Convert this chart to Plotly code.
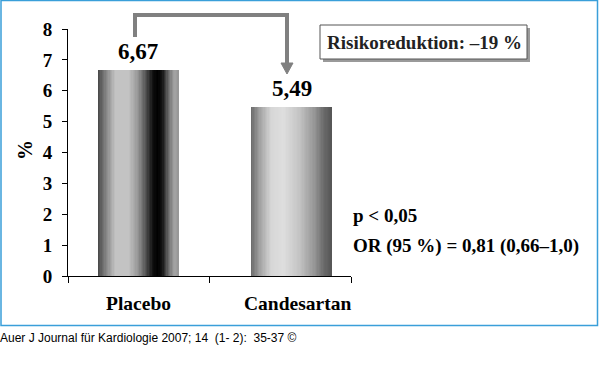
import plotly.graph_objects as go

# ---- data ----
categories = ["Placebo", "Candesartan"]
values = [6.67, 5.49]
value_labels = ["6,67", "5,49"]
y_ticks = [0, 1, 2, 3, 4, 5, 6, 7, 8]
risk_text = "Risikoreduktion: \u201319 %"
stat_lines = ["p < 0,05", "OR (95 %) = 0,81 (0,66\u20131,0)"]
caption = "Auer J Journal f\u00fcr Kardiologie 2007; 14  (1- 2):  35-37 \u00a9"

# ---- styling ----
W, H = 600, 388
L, T, PW, PH = 68, 29, 283, 247
SERIF = "Liberation Serif"
SANS = "Liberation Sans"

def xp(px):
    return (px - L) / PW

def yp(py):
    return (T + PH - py) / PH

# gradient stops (fraction across bar, grey level)
grad = {
    "Placebo": [(0, 70), (0.1, 130), (0.22, 195), (0.38, 195), (0.5, 150),
                (0.6, 80), (0.68, 15), (0.74, 0), (0.8, 20), (0.88, 110),
                (0.95, 165), (1.0, 150)],
    "Candesartan": [(0, 105), (0.1, 160), (0.25, 215), (0.4, 222), (0.6, 195),
                    (0.78, 150), (0.9, 105), (1.0, 85)],
}
bar_width = 0.572
bar_shift = {"Placebo": -0.005, "Candesartan": 0.08}
N = 60

def grey_at(stops, f):
    for (f0, g0), (f1, g1) in zip(stops[:-1], stops[1:]):
        if f0 <= f <= f1:
            t = 0 if f1 == f0 else (f - f0) / (f1 - f0)
            g = int(round(g0 + (g1 - g0) * t))
            return f"rgb({g},{g},{g})"
    g = stops[-1][1]
    return f"rgb({g},{g},{g})"

fig = go.Figure()
for cat, val in zip(categories, values):
    sw = bar_width / N
    offs = [bar_shift[cat] - bar_width / 2 + i * sw for i in range(N)]
    widths = [sw * 1.6 if i < N - 1 else sw for i in range(N)]
    cols = [grey_at(grad[cat], (i + 0.5) / N) for i in range(N)]
    fig.add_trace(go.Bar(
        x=[cat] * N, y=[val] * N, offset=offs, width=widths,
        marker=dict(color=cols, line=dict(width=0)),
        hoverinfo="skip", showlegend=False,
    ))

annotations = []
# value labels
for cat, val, lab in zip(categories, values, value_labels):
    annotations.append(dict(
        x=cat, y=val, xref="x", yref="y", text=lab, showarrow=False,
        xanchor="center", yanchor="bottom", yshift=4,
        xshift=bar_shift[cat] * PW / 2,
        font=dict(family=SERIF, size=23, color="black", weight="bold"),
    ))
# category labels
label_shift = {"Placebo": 0, "Candesartan": 17}
for cat in categories:
    annotations.append(dict(
        x=cat, y=yp(303), xref="x", yref="paper", text=cat, showarrow=False,
        xanchor="center", yanchor="middle", xshift=label_shift[cat],
        font=dict(family=SERIF, size=19.5, color="black", weight="bold"),
    ))
# y title
annotations.append(dict(
    x=xp(25), y=yp(150), xref="paper", yref="paper", text="%", textangle=-90,
    xanchor="center", yanchor="middle", showarrow=False,
    font=dict(family=SERIF, size=20, color="black", weight="bold"),
))
# risk box text
annotations.append(dict(
    x=xp(424), y=yp(42), xref="paper", yref="paper", text=risk_text,
    xanchor="center", yanchor="middle", showarrow=False,
    font=dict(family=SERIF, size=19, color="#222", weight="bold"),
))
# stats
for line, py in zip(stat_lines, [215, 246]):
    annotations.append(dict(
        x=xp(351), y=yp(py), xref="paper", yref="paper", text=line,
        xanchor="left", yanchor="middle", showarrow=False,
        font=dict(family=SERIF, size=19, color="black", weight="bold"),
    ))
# caption
annotations.append(dict(
    x=xp(-2), y=yp(338), xref="paper", yref="paper", text=caption,
    xanchor="left", yanchor="middle", showarrow=False,
    font=dict(family=SANS, size=12, color="black"),
))

shapes = [
    # outer blue frame
    dict(type="rect", xref="paper", yref="paper", x0=xp(1), x1=xp(597.5),
         y0=yp(325.5), y1=yp(0.5), line=dict(color="#3a9fd9", width=1.5),
         layer="below"),
    # box shadow
    dict(type="rect", xref="paper", yref="paper", x0=xp(323), x1=xp(530),
         y0=yp(62), y1=yp(28), line=dict(width=0), fillcolor="#9a9a9a"),
    # box
    dict(type="rect", xref="paper", yref="paper", x0=xp(320), x1=xp(527),
         y0=yp(59), y1=yp(25), line=dict(color="#555", width=1),
         fillcolor="white"),
    # connector arrow line
    dict(type="path", xref="paper", yref="paper",
         path=f"M {xp(135)},{yp(37)} L {xp(135)},{yp(15)} L {xp(287)},{yp(15)} L {xp(287)},{yp(64)}",
         line=dict(color="#808080", width=4)),
    # arrow head
    dict(type="path", xref="paper", yref="paper",
         path=f"M {xp(281)},{yp(63)} L {xp(293)},{yp(63)} L {xp(287)},{yp(74)} Z",
         line=dict(color="#808080", width=1), fillcolor="#808080"),
]

fig.update_layout(
    width=W, height=H,
    margin=dict(l=L, r=W - L - PW, t=T, b=H - T - PH, pad=0),
    paper_bgcolor="white", plot_bgcolor="white",
    barmode="overlay", bargap=0,
    annotations=annotations, shapes=shapes,
    xaxis=dict(
        type="category", range=[-0.5, 1.5], showline=True, linecolor="black",
        linewidth=1, ticks="outside", tickson="boundaries", ticklen=6,
        tickcolor="black", showticklabels=False, showgrid=False, zeroline=False,
    ),
    yaxis=dict(
        range=[0, 8], tickvals=y_ticks, showline=True, linecolor="black",
        linewidth=1, ticks="outside", ticklen=5, tickcolor="black",
        ticklabelstandoff=6,
        showgrid=False, zeroline=False,
        tickfont=dict(family=SERIF, size=19, color="black", weight="bold"),
    ),
)

fig.write_html(
    "out.html",
    config={"displayModeBar": False},
    post_script="document.body.style.margin='0';document.body.style.padding='0';",
)
